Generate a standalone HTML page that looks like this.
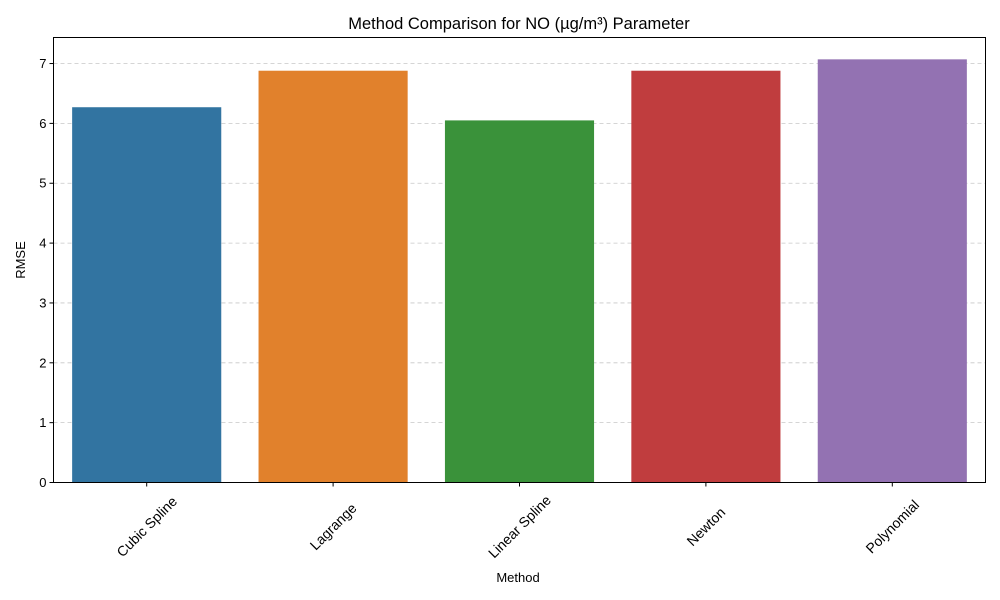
<!DOCTYPE html>
<html><head><meta charset="utf-8"><style>body{margin:0;background:#fff}svg{display:block}text{font-family:"Liberation Sans","DejaVu Sans",sans-serif;fill:#000}</style></head>
<body>
<svg id="chart" width="1000" height="600">
<text x="519" y="29" font-size="16.5" text-anchor="middle">Method Comparison for NO (µg/m³) Parameter</text>
<text x="518" y="582" font-size="13" text-anchor="middle">Method</text>
<text transform="translate(25,260) rotate(-90)" font-size="13" text-anchor="middle">RMSE</text>
<g id="grid"></g><g id="bars"></g><g id="yt"></g><g id="xt"></g>
<rect x="53.5" y="37.5" width="932" height="445" fill="none" stroke="#000" stroke-width="1"/>
</svg>
<script>
const categories=["Cubic Spline","Lagrange","Linear Spline","Newton","Polynomial"];
const rmseValues=[6.27,6.88,6.05,6.88,7.07];
const barColors=["#3274a1","#e1812c","#3a923a","#c03d3e","#9372b2"];
const yTicks=[0,1,2,3,4,5,6,7];
const L=53.5,R=985.5,T=37.5,B=482.5,yMax=7.435;
const ns="http://www.w3.org/2000/svg";
const y=v=>B-(v/yMax)*(B-T);
const step=(R-L)/categories.length;
const xc=i=>L+step*(i+0.5);
function mk(t,a,p){const e=document.createElementNS(ns,t);for(const k in a)e.setAttribute(k,a[k]);document.getElementById(p).appendChild(e);return e;}
yTicks.forEach(v=>{
 const g=mk("line",{x1:L,x2:R,y1:y(v),y2:y(v),stroke:"#b0b0b0","stroke-width":0.8,"stroke-dasharray":"4,3",opacity:0.7},"grid");
 
 
 const t=mk("line",{x1:L-4,x2:L,y1:y(v),y2:y(v),stroke:"#000"},"yt");
 
 
 const l=mk("text",{x:L-7,y:y(v)+4.5,"font-size":13,"text-anchor":"end"},"yt");l.textContent=v;
 
 
});
categories.forEach((c,i)=>{
 const w=step*0.8;
 const b=mk("rect",{x:xc(i)-w/2,y:y(rmseValues[i]),width:w,height:B-y(rmseValues[i]),fill:barColors[i]},"bars");
 
 
 const t=mk("line",{x1:xc(i),x2:xc(i),y1:B,y2:B+4,stroke:"#000"},"xt");
 
 
 const l=mk("text",{transform:`translate(${xc(i)},${B+44}) rotate(-45)`,"font-size":14,"text-anchor":"middle","dominant-baseline":"central"},"xt");l.textContent=c;
 
 
});
</script>
</body></html>
